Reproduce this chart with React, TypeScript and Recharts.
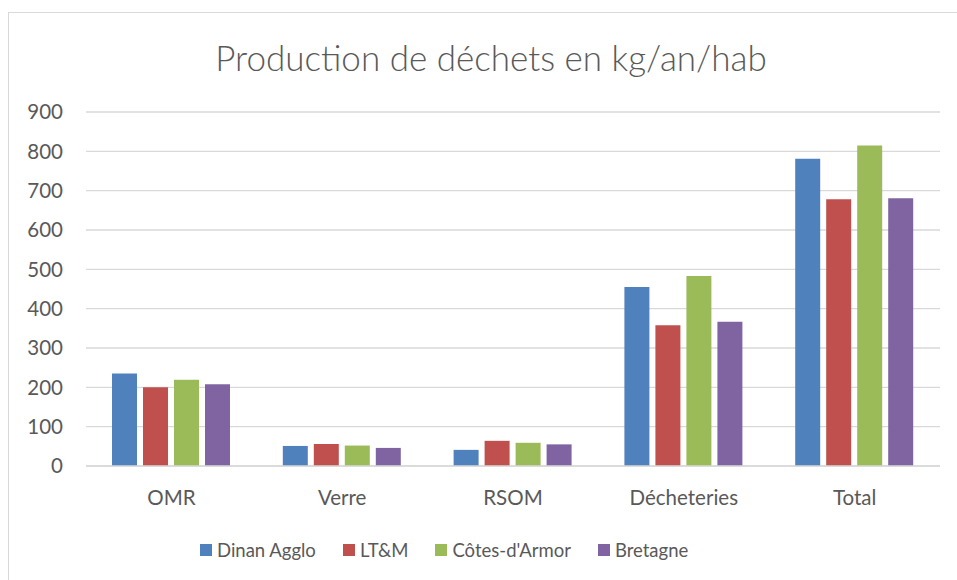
import React from 'react'
import {
  BarChart,
  Bar,
  XAxis,
  YAxis,
  CartesianGrid,
  Legend,
} from 'recharts'

const categories = ['OMR', 'Verre', 'RSOM', 'Décheteries', 'Total']
const dinanAgglo = [235, 51, 41, 455, 781]
const ltm = [200, 56, 64, 358, 678]
const cotesArmor = [219, 52, 59, 483, 815]
const bretagne = [208, 46, 55, 367, 681]
const yTicks = [0, 100, 200, 300, 400, 500, 600, 700, 800, 900]

const series = [
  { key: 'dinan', name: 'Dinan Agglo', color: '#4F81BD' },
  { key: 'ltm', name: 'LT&M', color: '#C0504D' },
  { key: 'cotes', name: "Côtes-d'Armor", color: '#9BBB59' },
  { key: 'bretagne', name: 'Bretagne', color: '#8064A2' },
]

const data = categories.map((c, i) => ({
  label: c,
  dinan: dinanAgglo[i],
  ltm: ltm[i],
  cotes: cotesArmor[i],
  bretagne: bretagne[i],
}))

const font = 'Lato, "Noto Sans", sans-serif'
const textColor = '#595959'

const LegendContent = () => (
  <div style={{ display: 'flex', fontFamily: font, fontSize: 18.5, color: textColor }}>
    {series.map((s) => (
      <div key={s.key} style={{ display: 'flex', alignItems: 'center', marginRight: 27 }}>
        <span style={{ width: 12, height: 12, background: s.color, marginRight: 5, display: 'inline-block' }} />
        <span>{s.name}</span>
      </div>
    ))}
  </div>
)

const App = () => {
  return (
    <div style={{ position: 'fixed', left: 0, top: 0, width: 957, height: 580, overflow: 'hidden', background: '#fff' }}>
      <div
        style={{
          position: 'absolute',
          left: 8,
          top: 12,
          width: 1000,
          height: 700,
          borderTop: '1.5px solid #d9d9d9',
          borderLeft: '1.5px solid #d9d9d9',
        }}
      />
      <div
        style={{
          position: 'absolute',
          left: 0,
          width: 982,
          top: 36,
          textAlign: 'center',
          fontFamily: font,
          fontWeight: 300,
          fontSize: 35,
          color: textColor,
        }}
      >
        Production de déchets en kg/an/hab
      </div>
      <div style={{ position: 'absolute', left: 0, top: 0 }}>
        <BarChart
          width={957}
          height={580}
          data={data}
          margin={{ top: 112, right: 17, bottom: 32, left: 0 }}
          barGap={6}
          barSize={25}
        >
          <CartesianGrid vertical={false} stroke="#d9d9d9" strokeWidth={1.3} />
          <XAxis
            dataKey="label"
            height={60}
            tickLine={false}
            tickSize={0}
            tickMargin={24}
            axisLine={{ stroke: '#d9d9d9', strokeWidth: 1.5 }}
            tick={{ fill: textColor, fontSize: 20.5, fontFamily: font }}
          />
          <YAxis
            domain={[0, 900]}
            ticks={yTicks}
            width={86}
            tickLine={false}
            tickSize={0}
            tickMargin={23}
            axisLine={false}
            tick={{ fill: textColor, fontSize: 20.5, fontFamily: font }}
          />
          <Legend
            verticalAlign="bottom"
            content={<LegendContent />}
            wrapperStyle={{ left: 200, bottom: 19, width: 600 }}
          />
          {series.map((s) => (
            <Bar key={s.key} dataKey={s.key} name={s.name} fill={s.color} isAnimationActive={false} />
          ))}
        </BarChart>
      </div>
    </div>
  )
}

export default App
